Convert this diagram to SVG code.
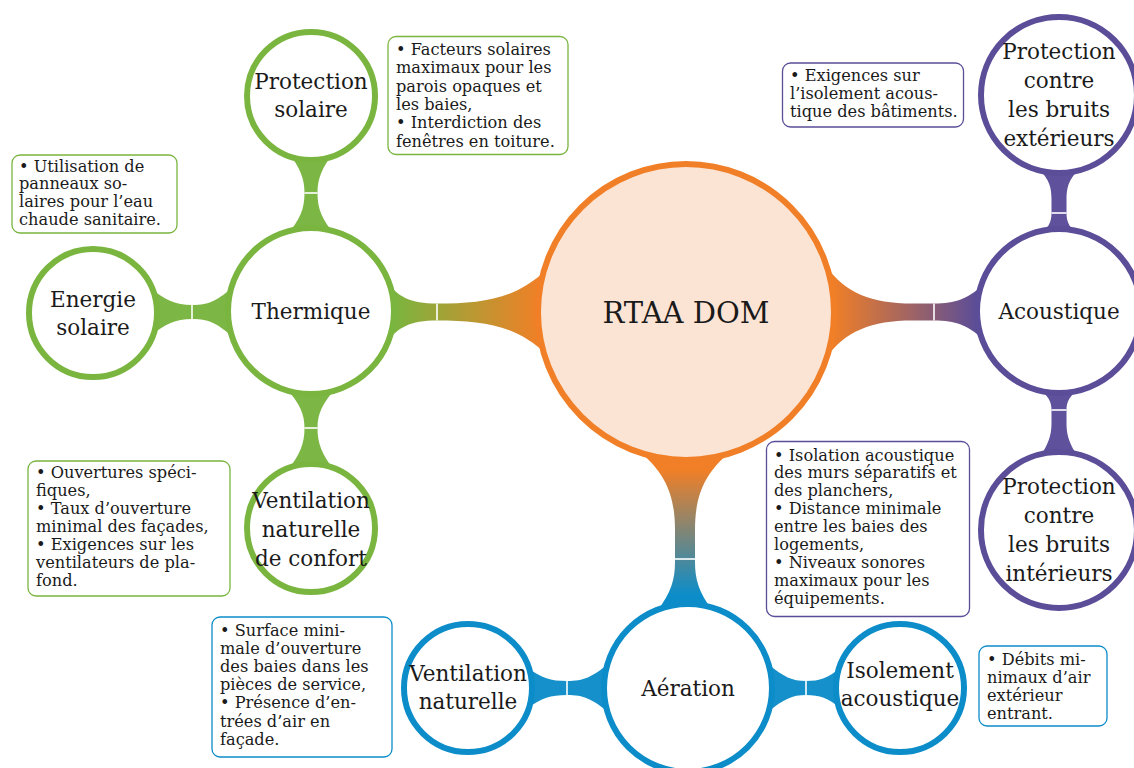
<svg xmlns="http://www.w3.org/2000/svg" width="1134" height="768" viewBox="0 0 1134 768">
<style>
.c{fill:#fff;stroke-width:6}
.g{stroke:#79B53F}.o{stroke:#F07F27}.p{stroke:#5B4D98}.b{stroke:#0C8DC9}
.lbl{font-family:"DejaVu Serif","Liberation Serif",serif;font-size:21.5px;fill:#1a1a1a;text-anchor:middle}
.big{font-size:29px}
.box{fill:#fff;stroke-width:1.3}
.bt{font-family:"DejaVu Serif","Liberation Serif",serif;font-size:16.2px;fill:#1a1a1a}
.wl{stroke:#fff;stroke-width:1.6}
</style>
<defs>
<linearGradient id="gTR" gradientUnits="userSpaceOnUse" x1="393" y1="0" x2="540" y2="0"><stop offset="0" stop-color="#79B53F"/><stop offset="1" stop-color="#F07F27"/></linearGradient>
<linearGradient id="gRA" gradientUnits="userSpaceOnUse" x1="833" y1="0" x2="977" y2="0"><stop offset="0" stop-color="#F07F27"/><stop offset="1" stop-color="#5B4D98"/></linearGradient>
<linearGradient id="gRAe" gradientUnits="userSpaceOnUse" x1="0" y1="470" x2="0" y2="595"><stop offset="0" stop-color="#F07F27"/><stop offset="1" stop-color="#0C8DC9"/></linearGradient>
</defs>
<g id="connectors">
<path fill="url(#gTR)" d="M385,280 C398,297 410,303.5 437,303.5 C482,303.5 516,299 546,270 L546,354 C516,325 482,320.5 437,320.5 C410,320.5 398,327 385,344 Z"/>
<line class="wl" x1="437" y1="303.5" x2="437" y2="320.5"/>
<path fill="url(#gRA)" d="M826,266 C845,293 872,303.5 912,303.5 L934,303.5 C956,303.5 967,299 983,285 L983,339 C967,325 956,320.5 934,320.5 L912,320.5 C872,320.5 845,331 826,358 Z"/>
<line class="wl" x1="934" y1="303.5" x2="934" y2="320.5"/>
<path fill="url(#gRAe)" d="M640,452 C666,474 675,496 675,530 L675,562 C675,580 671,592 658,610 L712,610 C699,592 695,580 695,562 L695,530 C695,496 704,474 730,452 Z"/>
<line class="wl" x1="675" y1="559" x2="695" y2="559"/>
<path fill="#7CB746" d="M288,152 C300,168 304.5,178 304.5,193 C304.5,209 300,220 286,236 L336,236 C322,220 317.5,209 317.5,193 C317.5,178 322,168 334,152 Z"/>
<line class="wl" x1="304.5" y1="193" x2="317.5" y2="193"/>
<path fill="#7CB746" d="M150,288 C166,300 175,305 192,305 C210,305 218,300 234,286 L234,338 C218,324 210,319 192,319 C175,319 166,324 150,336 Z"/>
<line class="wl" x1="192" y1="305" x2="192" y2="319"/>
<path fill="#7CB746" d="M286,388 C300,404 304.5,414 304.5,428 C304.5,444 300,454 288,470 L334,470 C322,454 317.5,444 317.5,428 C317.5,414 322,404 336,388 Z"/>
<line class="wl" x1="304.5" y1="428" x2="317.5" y2="428"/>
<path fill="#5F519B" d="M1038,168 C1050,180 1051.5,188 1051.5,200 L1051.5,213 C1051.5,222 1049,228 1036,238 L1082,238 C1069,228 1066.5,222 1066.5,213 L1066.5,200 C1066.5,188 1068,180 1080,168 Z"/>
<line class="wl" x1="1051.5" y1="213" x2="1066.5" y2="213"/>
<path fill="#5F519B" d="M1036,386 C1049,396 1051.5,402 1051.5,410 L1051.5,422 C1051.5,434 1050,442 1038,460 L1080,460 C1068,442 1066.5,434 1066.5,422 L1066.5,410 C1066.5,402 1069,396 1082,386 Z"/>
<line class="wl" x1="1051.5" y1="410" x2="1066.5" y2="410"/>
<path fill="#1690CA" d="M528,668 C542,678 550,681 567,681 C584,681 592,677 608,664 L608,712 C592,699 584,695 567,695 C550,695 542,698 528,708 Z"/>
<line class="wl" x1="567" y1="681" x2="567" y2="695"/>
<path fill="#1690CA" d="M768,664 C784,677 792,681 806,681 C820,681 828,678 840,668 L840,708 C828,698 820,695 806,695 C792,695 784,699 768,712 Z"/>
<line class="wl" x1="806" y1="681" x2="806" y2="695"/>
</g>
<g id="rtaa"><circle cx="686" cy="312" r="148" class="o" style="fill:#FCE4D5;stroke-width:6"/><text class="lbl big" x="686" y="323">RTAA DOM</text></g>
<g id="thermique"><circle cx="311" cy="311" r="83" class="c g"/><text class="lbl" x="311" y="319">Thermique</text></g>
<g id="protection-solaire"><circle cx="311" cy="96" r="64" class="c g"/><text class="lbl" x="311" y="89">Protection</text><text class="lbl" x="311" y="117">solaire</text></g>
<g id="energie-solaire"><circle cx="93" cy="313" r="64" class="c g"/><text class="lbl" x="93" y="307">Energie</text><text class="lbl" x="93" y="335">solaire</text></g>
<g id="ventilation-confort"><circle cx="311" cy="528" r="64" class="c g"/><text class="lbl" x="311" y="508">Ventilation</text><text class="lbl" x="311" y="537">naturelle</text><text class="lbl" x="311" y="566">de confort</text></g>
<g id="acoustique"><circle cx="1059" cy="311" r="82" class="c p"/><text class="lbl" x="1059" y="319">Acoustique</text></g>
<g id="bruits-exterieurs"><circle cx="1059" cy="95" r="78" class="c p"/><text class="lbl" x="1059" y="59">Protection</text><text class="lbl" x="1059" y="88">contre</text><text class="lbl" x="1059" y="117">les bruits</text><text class="lbl" x="1059" y="146">extérieurs</text></g>
<g id="bruits-interieurs"><circle cx="1059" cy="530" r="78" class="c p"/><text class="lbl" x="1059" y="494">Protection</text><text class="lbl" x="1059" y="523">contre</text><text class="lbl" x="1059" y="552">les bruits</text><text class="lbl" x="1059" y="581">intérieurs</text></g>
<g id="aeration"><circle cx="688" cy="688" r="84" class="c b"/><text class="lbl" x="688" y="696">Aération</text></g>
<g id="ventilation-naturelle"><circle cx="468" cy="688" r="64" class="c b"/><text class="lbl" x="468" y="681">Ventilation</text><text class="lbl" x="468" y="709">naturelle</text></g>
<g id="isolement-acoustique"><circle cx="900" cy="688" r="64" class="c b"/><text class="lbl" x="900" y="678">Isolement</text><text class="lbl" x="900" y="706">acoustique</text></g>
<g id="note-protection-solaire"><rect class="box g" x="388" y="36.5" width="180" height="118" rx="8"/>
<text class="bt" x="396" y="55">• Facteurs solaires</text><text class="bt" x="396" y="73.3">maximaux pour les</text><text class="bt" x="396" y="91.6">parois opaques et</text><text class="bt" x="396" y="110">les baies,</text><text class="bt" x="396" y="128.3">• Interdiction des</text><text class="bt" x="396" y="146.6">fenêtres en toiture.</text></g>
<g id="note-energie-solaire"><rect class="box g" x="12" y="155" width="165" height="78" rx="8"/>
<text class="bt" x="19" y="171.5">• Utilisation de</text><text class="bt" x="19" y="189.4">panneaux so-</text><text class="bt" x="19" y="207.3">laires pour l’eau</text><text class="bt" x="19" y="225.2">chaude sanitaire.</text></g>
<g id="note-bruits-exterieurs"><rect class="box p" x="782.5" y="63" width="181" height="64" rx="8"/>
<text class="bt" x="790" y="81">• Exigences sur</text><text class="bt" x="790" y="99">l’isolement acous-</text><text class="bt" x="790" y="117">tique des bâtiments.</text></g>
<g id="note-bruits-interieurs"><rect class="box p" x="766.5" y="441.5" width="203" height="175" rx="8"/>
<text class="bt" x="774" y="460.5">• Isolation acoustique</text><text class="bt" x="774" y="478.4">des murs séparatifs et</text><text class="bt" x="774" y="496.3">des planchers,</text><text class="bt" x="774" y="514.2">• Distance minimale</text><text class="bt" x="774" y="532.1">entre les baies des</text><text class="bt" x="774" y="550">logements,</text><text class="bt" x="774" y="567.9">• Niveaux sonores</text><text class="bt" x="774" y="585.8">maximaux pour les</text><text class="bt" x="774" y="603.7">équipements.</text></g>
<g id="note-ventilation-confort"><rect class="box g" x="28" y="461" width="202" height="135" rx="8"/>
<text class="bt" x="36" y="477.7">• Ouvertures spéci-</text><text class="bt" x="36" y="495.7">fiques,</text><text class="bt" x="36" y="513.7">• Taux d’ouverture</text><text class="bt" x="36" y="531.7">minimal des façades,</text><text class="bt" x="36" y="549.7">• Exigences sur les</text><text class="bt" x="36" y="567.7">ventilateurs de pla-</text><text class="bt" x="36" y="585.7">fond.</text></g>
<g id="note-ventilation-naturelle"><rect class="box b" x="212" y="617" width="180" height="140" rx="8"/>
<text class="bt" x="220" y="635.5">• Surface mini-</text><text class="bt" x="220" y="653.7">male d’ouverture</text><text class="bt" x="220" y="671.9">des baies dans les</text><text class="bt" x="220" y="690.1">pièces de service,</text><text class="bt" x="220" y="708.3">• Présence d’en-</text><text class="bt" x="220" y="726.5">trées d’air en</text><text class="bt" x="220" y="744.7">façade.</text></g>
<g id="note-isolement-acoustique"><rect class="box b" x="979" y="646" width="128" height="80" rx="8"/>
<text class="bt" x="987" y="665">• Débits mi-</text><text class="bt" x="987" y="683">nimaux d’air</text><text class="bt" x="987" y="701">extérieur</text><text class="bt" x="987" y="719">entrant.</text></g>
</svg>
